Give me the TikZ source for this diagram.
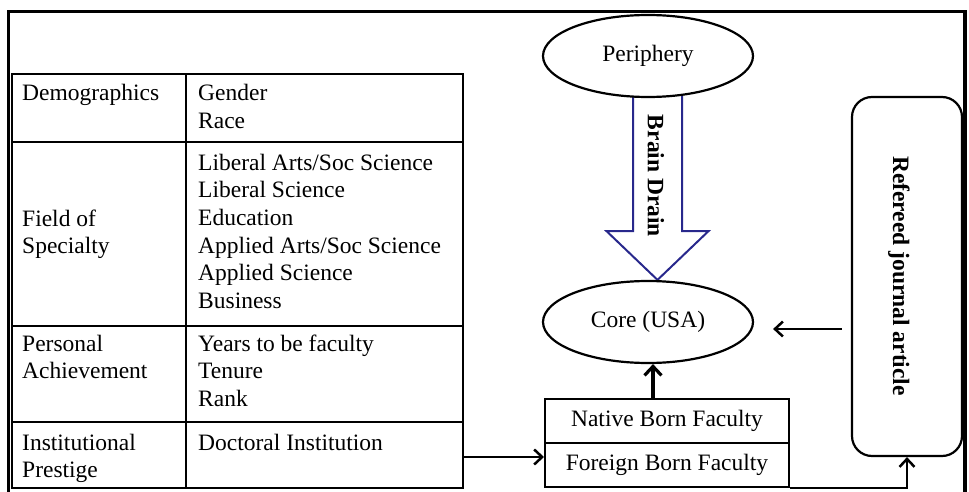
\documentclass[tikz,border=0pt]{standalone}
\usepackage{fontspec}
\setmainfont{Liberation Serif}
\usetikzlibrary{arrows.meta,calc,shapes.geometric,backgrounds}
\definecolor{drainblue}{RGB}{40,40,140}
\begin{document}
\begin{tikzpicture}[x=1pt,y=-1pt,
  font=\fontsize{23.5}{27.7}\selectfont,
  bold/.style={font=\fontsize{23.5}{27.7}\selectfont\bfseries},
  grid/.style={line width=2pt},
  oval/.style={ellipse, draw, line width=2.2pt, minimum width=210pt, minimum height=82pt, inner sep=0pt, fill=white},
  cell/.style={anchor=base west, align=left, inner sep=0pt},
  fbox/.style={draw, line width=2pt, minimum width=244pt, minimum height=44pt, inner sep=0pt},
  arr/.style={line width=2.5pt, -{Straight Barb[length=8pt,width=15pt]}}]
\useasboundingbox (0,0) rectangle (969,492);
% outer frame (open at the bottom)
\draw[line width=3.4pt] (8.3,500) -- (8.3,11.7) -- (965,11.7) -- (965,500);
% table
\draw[grid] (12,74) rectangle (463,488);
\draw[grid] (186,74) -- (186,488);
\draw[grid] (12,142) -- (463,142);
\draw[grid] (12,326) -- (463,326);
\draw[grid] (12,422) -- (463,422);
% (base anchor of a multi-line node = baseline of its last line)
\node[cell] (d1) at (22,101) {Demographics};
\node[cell] (d2) at (198,128.7) {Gender\\Race};
\node[cell] (f1) at (22,253.7) {Field of\\Specialty};
\node[cell] (f2) at (198,308.5) {Liberal Arts/Soc Science\\Liberal Science\\Education\\Applied Arts/Soc Science\\Applied Science\\Business};
\node[cell] (p1) at (22,378.7) {Personal\\Achievement};
\node[cell] (p2) at (198,406.4) {Years to be faculty\\Tenure\\Rank};
\node[cell] (i1) at (22,477.7) {Institutional\\Prestige};
\node[cell] (i2) at (198,450) {Doctoral Institution};
\coordinate (tabR) at (463,457);
% ellipses
\node[oval] (peri) at (648,56) {Periphery};
\node[oval] (core) at (648,322) {Core (USA)};
% brain drain arrow
\coordinate (bd) at ($(peri.south)+(9.5,0)$);
\begin{scope}[on background layer]
\draw[drainblue, line width=2pt, line join=miter]
  ($(bd)+(-24.5,-6)$) -- ($(bd)+(-24.5,133)$) -- ($(bd)+(-51,133)$)
  -- (bd |- core.north) -- ($(bd)+(51,133)$) -- ($(bd)+(24.5,133)$) -- ($(bd)+(24.5,-6)$);
\end{scope}
\node[bold, rotate=-90] (bdt) at (656,176) {Brain Drain};
% faculty boxes
\node[fbox] (nat) at (667,421) {Native Born Faculty};
\node[fbox] (for) at (667,465) {Foreign Born Faculty};
% refereed box
\node[draw, line width=2.2pt, rounded corners=20pt, minimum width=110pt, minimum height=359pt, inner sep=0pt] (ref) at (907,276.5) {};
\node[bold, rotate=-90] (reft) at (899,276) {Refereed journal article};
% connectors
\draw[arr, shorten <=9pt, shorten >=19pt] (ref.west |- 0,329) -- (core.east |- 0,329);
\draw[line width=3.2pt, -{Straight Barb[length=9pt,width=17pt]}] (nat.north -| 653,0) -- (core.south -| 653,0);
\draw[arr] (tabR) -- (for.west |- tabR);
\draw[arr] (for.south east) -| (ref.south);
\end{tikzpicture}
\end{document}
